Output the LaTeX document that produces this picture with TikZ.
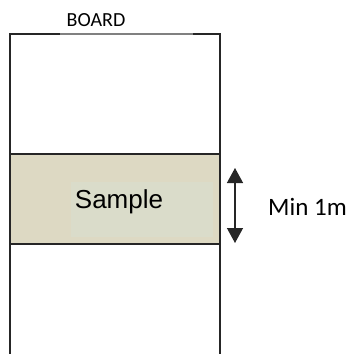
\documentclass[tikz,border=0pt]{standalone}
\usepackage{fontspec}
\usetikzlibrary{arrows.meta}
\newfontfamily\boardfont{Carlito}
\newfontfamily\samplefont{Liberation Sans}
\definecolor{bandtan}{HTML}{DDD9C3}
\definecolor{bandlight}{HTML}{DADCCA}
\definecolor{edgegray}{HTML}{262626}
\tikzstyle{edge}=[line width=1.3pt, draw=edgegray]
\tikzstyle{band}=[rectangle, minimum width=210pt, minimum height=90pt, inner sep=0, fill=bandtan, edge]
\tikzstyle{panel}=[rectangle, minimum width=142pt, minimum height=55pt, inner sep=0, fill=bandlight]
\tikzstyle{tag}=[inner sep=0, anchor=base, font=\boardfont\fontsize{20}{24}\selectfont]

\begin{document}
\begin{tikzpicture}[x=1pt, y=-1pt]
\useasboundingbox (0,0) rectangle (351,354);

\node [band] (band) at (115,199) {};
\node [panel] (panel) at (142,209.5) {};

\draw [edge] (10,354) -- (10,34) -- (220,34) -- (220,354);
\draw [line width=1.3pt, draw=gray] (60,34) -- (193,34);

\node [tag] (board) at (96,26.7) {BOARD};
\node [tag, font=\samplefont\fontsize{26}{30}\selectfont] (sample) at (119,208.5) {Sample};
\node [tag, font=\boardfont\fontsize{25}{29}\selectfont] (min) at (307.5,215) {Min 1m};

\coordinate (up) at (235,168);
\coordinate (down) at (235,243);
\draw [edge, {Triangle[width=16pt,length=15pt]}-{Triangle[width=16pt,length=15pt]}] (up) -- (down);

\end{tikzpicture}
\end{document}
